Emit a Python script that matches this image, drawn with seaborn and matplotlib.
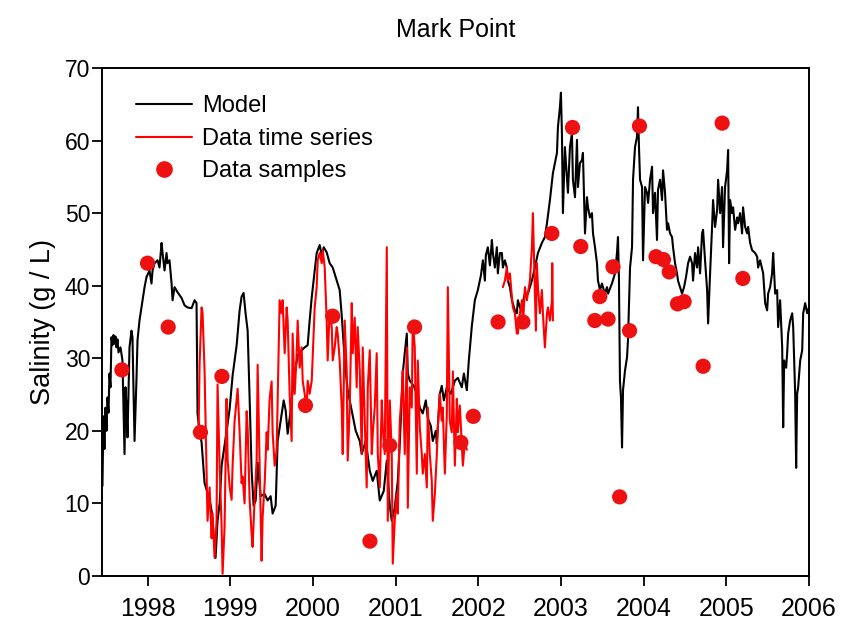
import numpy as np
import pandas as pd
import matplotlib
matplotlib.use("Agg")
import matplotlib.pyplot as plt
from matplotlib.lines import Line2D
import seaborn as sns

# Modelled salinity at Mark Point (decimal year, g/L)
model_year = [
    1997.455, 1997.467, 1997.479, 1997.492, 1997.504, 1997.516, 1997.528, 1997.540, 1997.552, 1997.564,
    1997.576, 1997.588, 1997.600, 1997.613, 1997.625, 1997.637, 1997.649, 1997.673, 1997.697, 1997.722,
    1997.734, 1997.746, 1997.758, 1997.782, 1997.806, 1997.818, 1997.843, 1997.867, 1997.879, 1997.903,
    1997.927, 1997.939, 1997.964, 1997.988, 1998.024, 1998.048, 1998.061, 1998.085, 1998.121, 1998.145,
    1998.170, 1998.182, 1998.206, 1998.230, 1998.242, 1998.266, 1998.291, 1998.303, 1998.327, 1998.363,
    1998.412, 1998.448, 1998.484, 1998.533, 1998.569, 1998.593, 1998.605, 1998.630, 1998.654, 1998.690,
    1998.751, 1998.775, 1998.811, 1998.823, 1998.847, 1998.872, 1998.896, 1998.956, 1998.993, 1999.029,
    1999.078, 1999.114, 1999.138, 1999.162, 1999.186, 1999.211, 1999.235, 1999.259, 1999.283, 1999.308,
    1999.332, 1999.368, 1999.417, 1999.453, 1999.489, 1999.513, 1999.550, 1999.574, 1999.610, 1999.647,
    1999.671, 1999.695, 1999.731, 1999.768, 1999.816, 1999.864, 1999.901, 1999.937, 1999.961, 1999.986,
    2000.022, 2000.046, 2000.082, 2000.107, 2000.131, 2000.167, 2000.203, 2000.240, 2000.288, 2000.324,
    2000.349, 2000.385, 2000.421, 2000.470, 2000.518, 2000.567, 2000.591, 2000.639, 2000.688, 2000.724,
    2000.772, 2000.809, 2000.857, 2000.894, 2000.930, 2000.954, 2000.990, 2001.027, 2001.051, 2001.087,
    2001.111, 2001.136, 2001.148, 2001.172, 2001.220, 2001.257, 2001.293, 2001.329, 2001.366, 2001.390,
    2001.426, 2001.450, 2001.487, 2001.499, 2001.535, 2001.559, 2001.584, 2001.620, 2001.668, 2001.717,
    2001.753, 2001.801, 2001.826, 2001.862, 2001.886, 2001.923, 2001.959, 2001.995, 2002.032, 2002.044,
    2002.056, 2002.080, 2002.092, 2002.116, 2002.141, 2002.165, 2002.177, 2002.201, 2002.225, 2002.237,
    2002.262, 2002.286, 2002.298, 2002.322, 2002.346, 2002.358, 2002.383, 2002.407, 2002.443, 2002.467,
    2002.479, 2002.516, 2002.564, 2002.600, 2002.649, 2002.685, 2002.722, 2002.770, 2002.806, 2002.831,
    2002.867, 2002.903, 2002.952, 2002.964, 2002.988, 2003.000, 2003.012, 2003.024, 2003.048, 2003.061,
    2003.085, 2003.109, 2003.133, 2003.145, 2003.170, 2003.194, 2003.206, 2003.230, 2003.254, 2003.266,
    2003.291, 2003.315, 2003.327, 2003.351, 2003.375, 2003.388, 2003.412, 2003.436, 2003.448, 2003.472,
    2003.496, 2003.508, 2003.533, 2003.557, 2003.569, 2003.617, 2003.654, 2003.678, 2003.690, 2003.702,
    2003.714, 2003.726, 2003.739, 2003.751, 2003.775, 2003.799, 2003.811, 2003.836, 2003.860, 2003.872,
    2003.896, 2003.920, 2003.932, 2003.944, 2003.957, 2003.981, 2003.993, 2004.017, 2004.041, 2004.054,
    2004.078, 2004.102, 2004.114, 2004.138, 2004.162, 2004.174, 2004.199, 2004.223, 2004.235, 2004.259,
    2004.283, 2004.296, 2004.320, 2004.344, 2004.356, 2004.380, 2004.404, 2004.416, 2004.441, 2004.465,
    2004.489, 2004.513, 2004.538, 2004.562, 2004.586, 2004.598, 2004.622, 2004.646, 2004.659, 2004.683,
    2004.707, 2004.719, 2004.743, 2004.768, 2004.780, 2004.804, 2004.828, 2004.840, 2004.864, 2004.889,
    2004.901, 2004.925, 2004.949, 2004.961, 2004.985, 2005.010, 2005.022, 2005.034, 2005.046, 2005.070,
    2005.082, 2005.107, 2005.131, 2005.143, 2005.167, 2005.191, 2005.203, 2005.228, 2005.252, 2005.264,
    2005.288, 2005.312, 2005.349, 2005.373, 2005.385, 2005.409, 2005.446, 2005.470, 2005.494, 2005.506,
    2005.530, 2005.554, 2005.567, 2005.591, 2005.615, 2005.627, 2005.651, 2005.676, 2005.688, 2005.700,
    2005.724, 2005.736, 2005.748, 2005.772, 2005.797, 2005.809, 2005.833, 2005.845, 2005.857, 2005.869,
    2005.894, 2005.918, 2005.930, 2005.954, 2005.978, 2006.000,
]
model_salinity = [
    12.4, 22.0, 17.5, 23.2, 20.0, 24.6, 22.5, 27.9, 26.0, 32.9,
    31.8, 33.2, 32.0, 33.0, 31.5, 32.6, 30.8, 31.5, 29.7, 16.8,
    26.0, 23.2, 19.1, 31.5, 33.8, 32.9, 18.6, 27.3, 32.5, 35.2,
    37.0, 38.0, 39.8, 41.2, 42.1, 40.3, 42.1, 43.1, 43.5, 42.5,
    45.9, 44.5, 42.1, 44.5, 43.1, 43.5, 40.3, 38.0, 39.8, 39.1,
    38.3, 37.3, 37.0, 36.9, 38.0, 37.6, 22.4, 19.8, 18.4, 12.8,
    10.5, 9.0, 4.0, 2.5, 7.6, 10.0, 15.2, 19.9, 23.0, 27.6,
    31.8, 36.6, 38.5, 39.0, 36.2, 33.8, 24.5, 14.5, 9.7, 10.4,
    15.6, 11.0, 11.3, 10.4, 11.0, 8.6, 9.7, 18.6, 21.4, 24.2,
    22.8, 19.6, 22.8, 26.9, 30.4, 31.1, 31.5, 31.8, 35.2, 38.4,
    42.1, 44.5, 45.6, 44.2, 45.3, 44.6, 43.1, 42.5, 40.7, 39.4,
    35.9, 29.7, 25.6, 22.8, 20.0, 18.6, 16.8, 18.6, 14.5, 13.1,
    14.5, 10.4, 11.7, 15.9, 9.7, 7.6, 9.4, 13.1, 18.2, 27.9,
    30.7, 33.4, 27.9, 26.9, 26.2, 25.1, 23.2, 22.4, 24.2, 21.7,
    20.7, 18.6, 20.0, 18.2, 25.1, 26.2, 24.2, 26.0, 25.1, 26.9,
    27.3, 26.0, 27.9, 25.6, 29.7, 34.5, 38.0, 39.4, 41.4, 42.5,
    43.5, 40.7, 44.2, 45.3, 42.8, 46.3, 44.5, 42.5, 45.3, 41.7,
    44.5, 44.5, 42.5, 43.5, 42.5, 40.7, 39.8, 38.0, 36.6, 36.2,
    38.0, 36.6, 38.9, 38.9, 40.7, 42.5, 44.5, 45.9, 46.7, 48.6,
    51.8, 55.5, 58.3, 61.9, 64.6, 66.6, 61.0, 50.0, 59.1, 56.9,
    52.8, 59.1, 61.0, 54.6, 52.2, 60.1, 53.6, 56.9, 57.3, 58.3,
    47.2, 52.2, 50.8, 49.4, 50.0, 47.2, 45.3, 43.1, 40.7, 39.4,
    40.3, 39.8, 38.9, 39.8, 38.9, 40.3, 41.7, 44.5, 46.7, 40.7,
    26.9, 24.6, 17.7, 25.6, 28.3, 30.1, 32.5, 42.5, 45.3, 54.6,
    59.1, 60.5, 64.6, 59.1, 54.6, 53.6, 43.5, 53.6, 52.8, 51.4,
    54.6, 56.4, 50.0, 52.8, 46.3, 53.2, 54.6, 51.8, 55.9, 52.8,
    47.7, 48.6, 47.2, 46.7, 45.3, 43.1, 41.7, 40.7, 39.8, 38.9,
    39.8, 41.2, 43.1, 44.0, 43.1, 40.7, 44.5, 42.5, 45.3, 41.7,
    47.2, 47.7, 43.5, 39.4, 34.8, 41.7, 48.1, 51.8, 48.1, 50.4,
    54.6, 50.0, 53.6, 45.3, 53.6, 55.9, 58.7, 43.1, 51.8, 50.0,
    50.8, 47.7, 49.4, 48.6, 50.0, 47.2, 50.8, 48.1, 47.2, 48.1,
    45.9, 44.9, 44.5, 44.0, 42.5, 43.5, 41.7, 37.6, 36.6, 38.9,
    39.8, 41.7, 44.5, 38.9, 39.4, 34.3, 38.0, 31.5, 20.5, 29.7,
    28.7, 30.7, 33.4, 35.2, 36.2, 34.3, 25.1, 14.9, 25.1, 26.0,
    29.7, 31.1, 36.2, 37.6, 36.2, 37.0,
]

# Continuous logger record, first deployment (1998.6 - 2001.9)
logger1_year = [
    1998.617, 1998.630, 1998.654, 1998.666, 1998.690, 1998.714, 1998.726, 1998.751, 1998.775, 1998.787,
    1998.811, 1998.835, 1998.847, 1998.872, 1998.896, 1998.908, 1998.932, 1998.956, 1998.969, 1998.993,
    1999.017, 1999.029, 1999.053, 1999.078, 1999.090, 1999.114, 1999.138, 1999.150, 1999.174, 1999.199,
    1999.211, 1999.235, 1999.259, 1999.271, 1999.295, 1999.320, 1999.332, 1999.356, 1999.380, 1999.392,
    1999.417, 1999.441, 1999.453, 1999.477, 1999.501, 1999.513, 1999.538, 1999.562, 1999.574, 1999.598,
    1999.622, 1999.634, 1999.659, 1999.683, 1999.695, 1999.719, 1999.743, 1999.755, 1999.780, 1999.804,
    1999.816, 1999.840, 1999.864, 1999.877, 1999.901, 1999.925, 1999.937, 1999.961, 1999.986, 2000.022,
    2000.046, 2000.058, 2000.082, 2000.107, 2000.119, 2000.143, 2000.167, 2000.179, 2000.203, 2000.228,
    2000.240, 2000.264, 2000.288, 2000.300, 2000.324, 2000.349, 2000.361, 2000.385, 2000.409, 2000.421,
    2000.446, 2000.470, 2000.482, 2000.506, 2000.530, 2000.542, 2000.567, 2000.591, 2000.603, 2000.627,
    2000.651, 2000.664, 2000.688, 2000.712, 2000.724, 2000.748, 2000.772, 2000.785, 2000.809, 2000.833,
    2000.845, 2000.869, 2000.894, 2000.906, 2000.930, 2000.954, 2000.966, 2000.990, 2001.015, 2001.027,
    2001.051, 2001.075, 2001.087, 2001.111, 2001.136, 2001.148, 2001.172, 2001.196, 2001.208, 2001.232,
    2001.257, 2001.269, 2001.293, 2001.317, 2001.329, 2001.354, 2001.378, 2001.390, 2001.414, 2001.438,
    2001.450, 2001.475, 2001.499, 2001.511, 2001.535, 2001.559, 2001.571, 2001.596, 2001.620, 2001.632,
    2001.656, 2001.680, 2001.693, 2001.717, 2001.741, 2001.753, 2001.777, 2001.814, 2001.838, 2001.862,
]
logger1_salinity = [
    19.6, 29.3, 37.0, 36.2, 28.3, 14.1, 7.6, 12.2, 5.2, 8.6,
    2.5, 7.6, 26.4, 15.2, 6.8, 0.3, 6.8, 24.4, 16.0, 12.3,
    10.5, 15.2, 21.3, 24.4, 25.8, 19.8, 12.8, 13.7, 10.0, 22.7,
    20.3, 10.5, 5.8, 4.0, 10.5, 16.0, 29.1, 15.2, 2.1, 8.1,
    12.8, 19.8, 17.4, 24.4, 26.8, 19.8, 15.2, 17.4, 24.4, 38.0,
    36.2, 38.0, 30.7, 37.0, 35.2, 25.1, 18.6, 33.4, 25.1, 30.7,
    35.2, 28.7, 31.5, 26.9, 25.1, 23.2, 26.9, 25.1, 26.9, 37.0,
    39.8, 43.5, 44.5, 43.1, 44.9, 42.5, 35.2, 29.7, 36.6, 34.3,
    29.7, 31.5, 34.3, 33.4, 29.7, 23.2, 16.8, 35.2, 28.3, 15.9,
    23.2, 37.6, 30.7, 35.6, 26.0, 34.3, 28.3, 16.8, 31.5, 21.4,
    12.2, 26.0, 31.1, 16.8, 19.6, 23.2, 30.7, 16.8, 12.2, 24.2,
    20.5, 16.8, 45.3, 7.6, 24.2, 16.8, 1.7, 7.6, 11.3, 8.6,
    21.4, 25.1, 28.3, 16.8, 31.5, 9.4, 26.0, 23.2, 35.2, 31.5,
    14.1, 29.7, 20.5, 16.8, 14.1, 16.8, 12.2, 23.2, 16.8, 13.1,
    7.6, 11.3, 16.8, 20.5, 25.1, 21.4, 23.2, 14.1, 22.4, 39.8,
    21.4, 19.8, 28.2, 15.2, 24.4, 19.8, 23.5, 15.2, 18.4, 17.4,
]

# Continuous logger record, second deployment (2002.3 - 2002.9)
logger2_year = [
    2002.298, 2002.322, 2002.346, 2002.358, 2002.383, 2002.407, 2002.419, 2002.443, 2002.467, 2002.479,
    2002.504, 2002.528, 2002.540, 2002.564, 2002.588, 2002.600, 2002.625, 2002.649, 2002.661, 2002.673,
    2002.697, 2002.709, 2002.722, 2002.746, 2002.770, 2002.782, 2002.806, 2002.831, 2002.843, 2002.867,
    2002.891, 2002.895, 2002.903,
]
logger2_salinity = [
    39.8, 40.7, 42.5, 40.7, 41.7, 38.4, 37.0, 36.2, 33.4, 33.4,
    36.2, 38.0, 34.3, 39.8, 38.0, 38.9, 40.7, 45.3, 50.0, 44.5,
    33.8, 43.1, 39.8, 36.2, 39.4, 36.2, 31.5, 36.2, 37.0, 35.2,
    38.0, 43.1, 35.2,
]

# Discrete grab samples
sample_year = [
    1997.69, 1998.00, 1998.25, 1998.64, 1998.90, 1999.91, 2000.24, 2000.69, 2000.93, 2001.23,
    2001.79, 2001.94, 2002.24, 2002.54, 2002.89, 2003.14, 2003.24, 2003.41, 2003.47, 2003.57,
    2003.63, 2003.71, 2003.83, 2003.95, 2004.15, 2004.24, 2004.31, 2004.41, 2004.49, 2004.72,
    2004.95, 2005.20,
]
sample_salinity = [
    28.4, 43.1, 34.3, 19.8, 27.5, 23.5, 35.8, 4.8, 18.0, 34.3,
    18.4, 22.0, 35.0, 35.0, 47.2, 61.8, 45.4, 35.2, 38.5, 35.4,
    42.6, 10.9, 33.8, 62.0, 44.0, 43.6, 41.9, 37.5, 37.8, 28.9,
    62.4, 41.0,
]

year_ticks = list(range(1998, 2007))
salinity_ticks = list(range(0, 71, 10))

sns.set_theme(style="ticks")
plt.rcParams["font.family"] = ["Liberation Sans", "DejaVu Sans"]
plt.rcParams.update({
    "text.color": "black",
    "axes.labelcolor": "black",
    "xtick.color": "black",
    "ytick.color": "black",
    "axes.edgecolor": "black",
})

model_df = pd.DataFrame({"year": model_year, "salinity": model_salinity})
logger_df = pd.DataFrame({
    "year": logger1_year + logger2_year,
    "salinity": logger1_salinity + logger2_salinity,
    "deployment": [1] * len(logger1_year) + [2] * len(logger2_year),
})
sample_df = pd.DataFrame({"year": sample_year, "salinity": sample_salinity})

fig = plt.figure(figsize=(8.44, 6.26), dpi=100)
ax = fig.add_axes([0.1209, 0.0799, 0.8376, 0.8115])

sns.lineplot(data=model_df, x="year", y="salinity", ax=ax, color="black",
             linewidth=1.5, estimator=None, sort=False)
sns.lineplot(data=logger_df, x="year", y="salinity", units="deployment", ax=ax,
             color="#ff0000", linewidth=1.5, estimator=None, sort=False)
sns.scatterplot(data=sample_df, x="year", y="salinity", ax=ax, color="#ee1111",
                s=120, edgecolor="none", zorder=5)

ax.set_xlim(1997.45, 2006.0)
ax.set_ylim(0, 70)
ax.set_xticks(year_ticks)
ax.set_yticks(salinity_ticks)
ax.set_xticklabels([str(t) for t in year_ticks], fontsize=18)
ax.set_yticklabels([str(t) for t in salinity_ticks], fontsize=16.5)
ax.set_xlabel("")
ax.set_ylabel("Salinity (g / L)", fontsize=19.5, labelpad=6)
ax.set_title("Mark Point", fontsize=18, pad=22)

for side in ["top", "right", "bottom", "left"]:
    ax.spines[side].set_visible(True)
    ax.spines[side].set_linewidth(1.4)
    ax.spines[side].set_color("black")
ax.tick_params(axis="both", direction="out", length=7, width=1.3, color="black",
               labelcolor="black", top=False, right=False)
ax.tick_params(axis="x", pad=8)
ax.tick_params(axis="y", pad=1.5)

handles = [
    Line2D([], [], color="black", linewidth=1.5),
    Line2D([], [], color="#ff0000", linewidth=1.5),
    Line2D([], [], color="#ee1111", marker="o", linestyle="none", markersize=11),
]
ax.legend(handles, ["Model", "Data time series", "Data samples"], loc="upper left",
          bbox_to_anchor=(0.035, 0.965), frameon=False, fontsize=17,
          handlelength=2.35, handletextpad=0.45, labelspacing=0.45, borderaxespad=0)

fig.savefig("out.png", dpi=100)
